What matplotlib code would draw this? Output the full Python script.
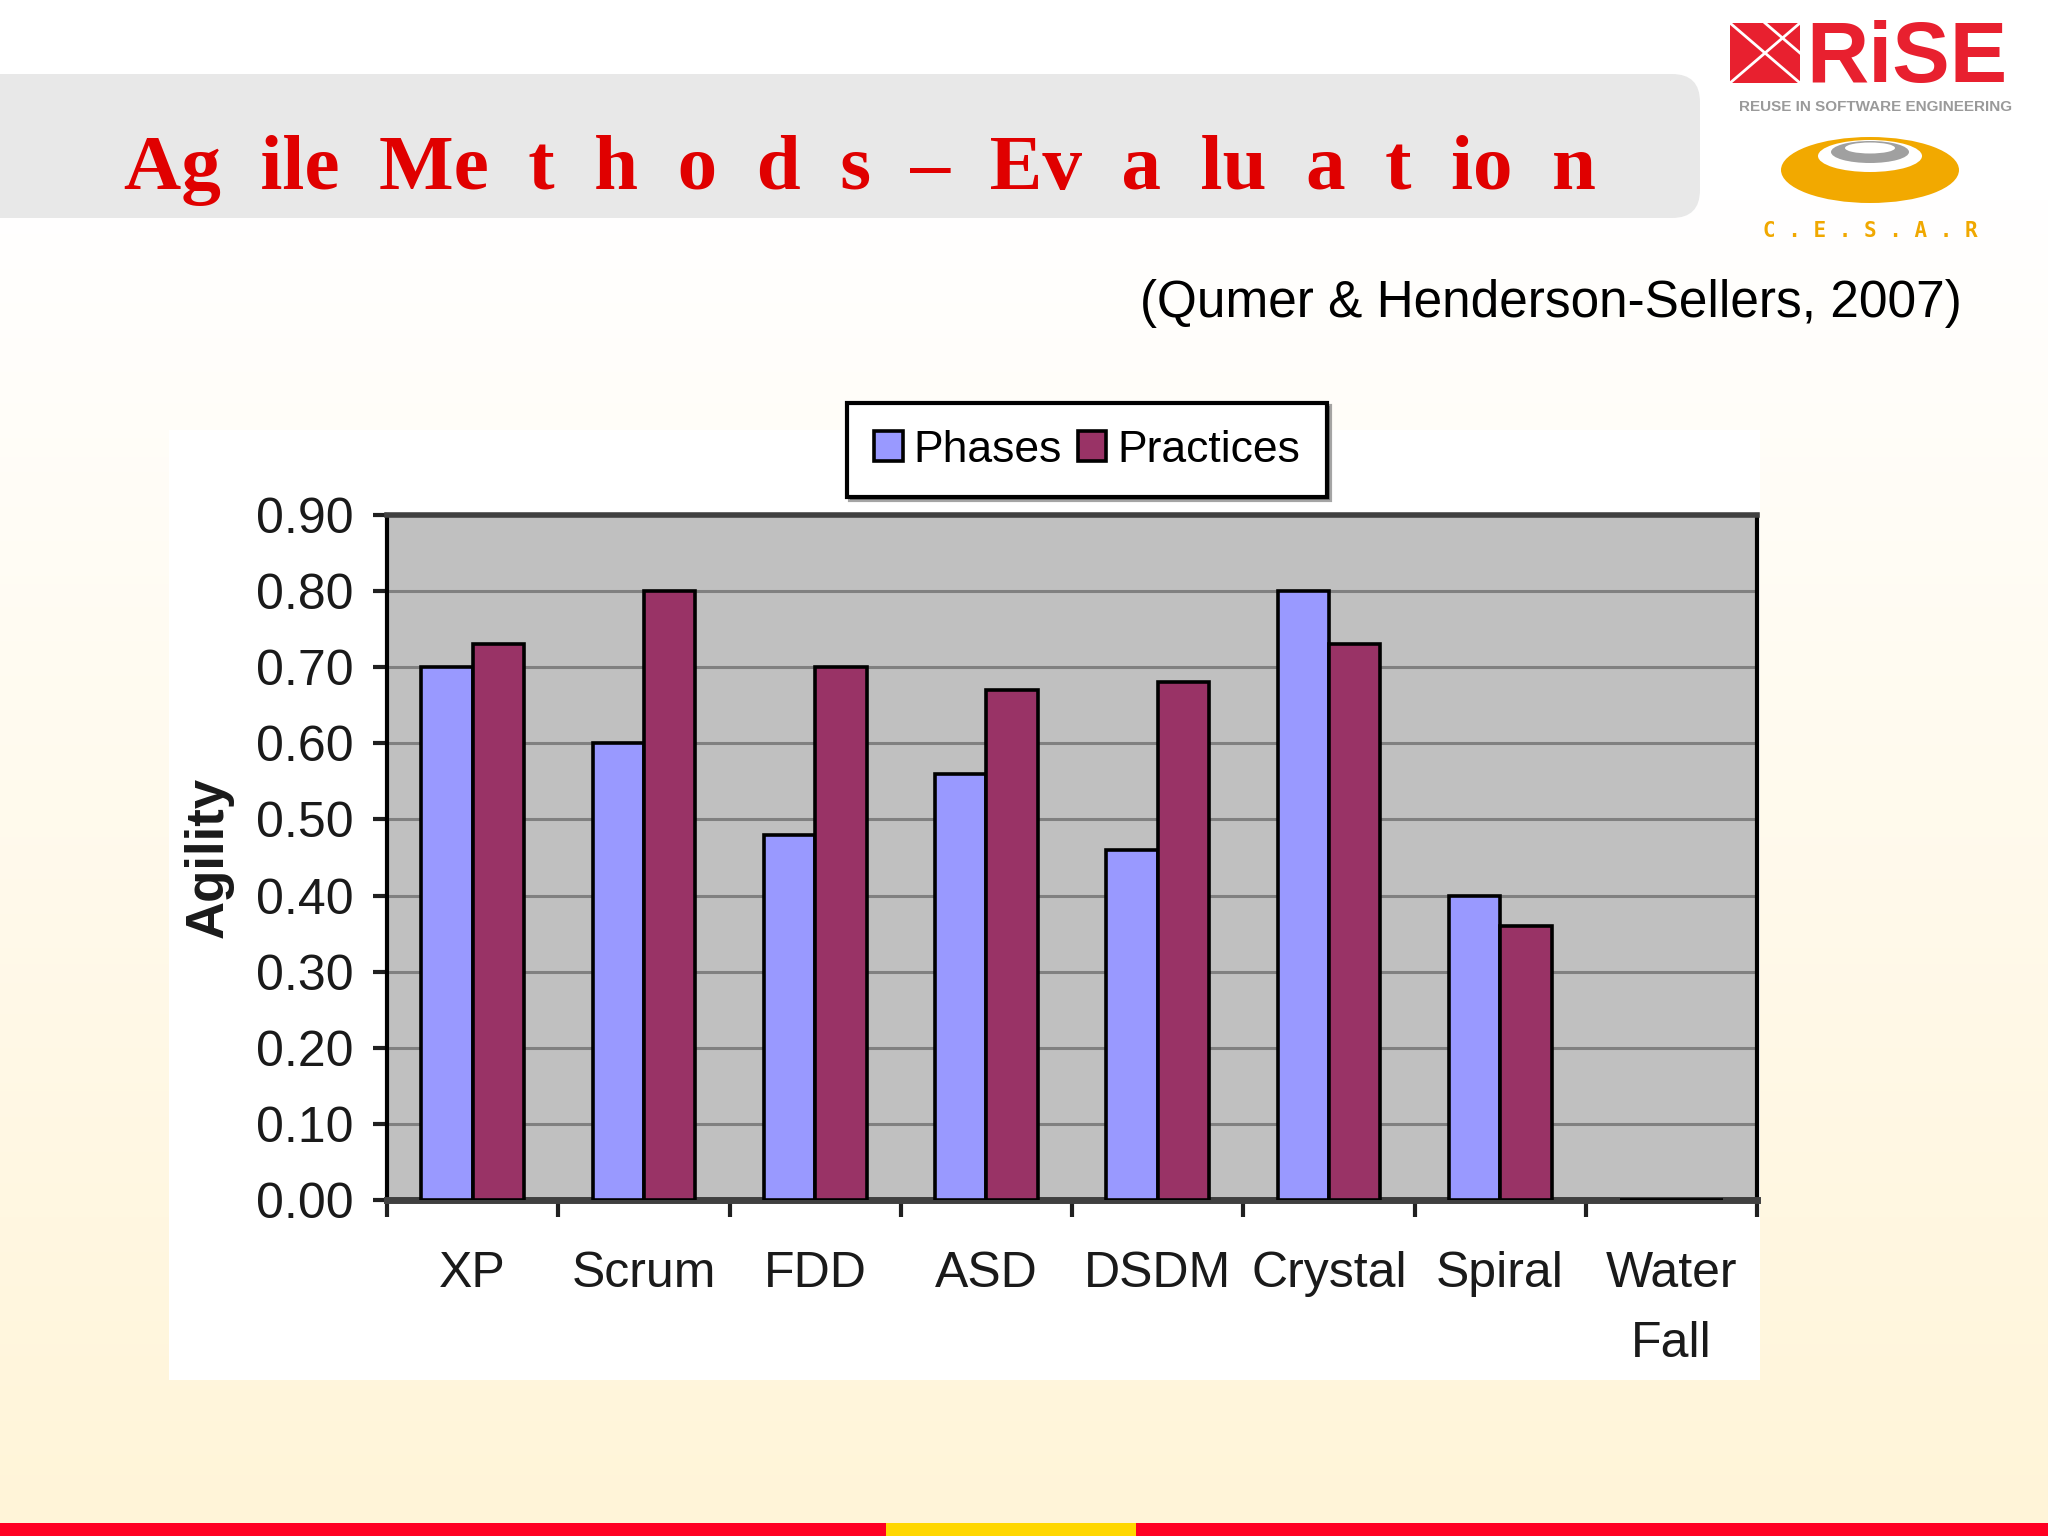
import numpy as np
import matplotlib.pyplot as plt
from matplotlib.patches import Rectangle, FancyBboxPatch, Ellipse

# data
methods = ['XP', 'Scrum', 'FDD', 'ASD', 'DSDM', 'Crystal', 'Spiral', 'Water\nFall']
phases = [0.70, 0.60, 0.48, 0.56, 0.46, 0.80, 0.40, 0.0]
practices = [0.73, 0.80, 0.70, 0.67, 0.68, 0.73, 0.36, 0.0]
yticks = np.arange(0, 0.91, 0.1)

plt.rcParams['font.family'] = ['Liberation Sans', 'DejaVu Sans']

fig = plt.figure(figsize=(20.48, 15.36), dpi=100)

# slide background in pixel coords
bg = fig.add_axes([0, 0, 1, 1])
bg.set_xlim(0, 2048)
bg.set_ylim(1536, 0)
bg.axis('off')
t = np.clip((np.linspace(0, 1536, 400) - 200) / 1300, 0, 1)[:, None]
img = np.ones((400, 1, 3))
img[:, :, 1] = 1 - 0.04 * t
img[:, :, 2] = 1 - 0.15 * t
bg.imshow(img, extent=[0, 2048, 1536, 0], aspect='auto', zorder=0)

# title banner
bg.add_patch(FancyBboxPatch((-60, 74), 1760, 144, boxstyle='round,pad=0,rounding_size=28',
                            fc='#E8E8E8', ec='none', zorder=1))
bg.text(124, 189, 'Ag  ile  Me  t  h  o  d  s  –  Ev  a  lu  a  t  io  n', family='Liberation Serif',
        weight='bold', color='#E00000', fontsize=57, va='baseline', ha='left', zorder=2)

# logos
bg.add_patch(Rectangle((1730, 23), 70, 60, fc='#E8202F', ec='none', zorder=1))
bg.plot([1730, 1800], [23, 83], color='white', lw=2, zorder=2)
bg.plot([1730, 1800], [83, 23], color='white', lw=2, zorder=2)
bg.plot([1765, 1800], [23, 53], color='white', lw=2, zorder=2)
bg.text(1806, 82, 'RiSE', family='Liberation Sans', weight='bold', color='#E8202F',
        fontsize=62, va='baseline', ha='left', zorder=2)
bg.text(1876, 100, 'REUSE IN SOFTWARE ENGINEERING', family='Liberation Sans', weight='bold',
        color='#9A9A9A', fontsize=11, va='top', ha='center', zorder=2)
bg.add_patch(Ellipse((1870, 170), 178, 66, fc='#F2A900', ec='none', zorder=1))
bg.add_patch(Ellipse((1870, 156), 104, 32, fc='white', ec='none', zorder=2))
bg.add_patch(Ellipse((1870, 152), 78, 22, fc='#A0A0A0', ec='none', zorder=3))
bg.add_patch(Ellipse((1870, 148), 50, 11, fc='white', ec='none', zorder=4))
bg.text(1870, 231, 'C . E . S . A . R', family='DejaVu Sans Mono', weight='bold', color='#F0A800',
        fontsize=15, va='center', ha='center', zorder=2)

bg.text(1962, 303, '(Qumer & Henderson-Sellers, 2007)', family='Liberation Sans',
        fontsize=37, va='center', ha='right', color='black', zorder=2)

# white chart panel and bottom stripe
bg.add_patch(Rectangle((169, 430), 1591, 950, fc='white', ec='none', zorder=1))
bg.add_patch(Rectangle((0, 1523), 2048, 13, fc='#FF0022', ec='none', zorder=1))
bg.add_patch(Rectangle((886, 1523), 250, 13, fc='#FFD700', ec='none', zorder=2))

# chart
ax = fig.add_axes([387 / 2048, 1 - 1200 / 1536, 1370 / 2048, 685 / 1536])
x = np.arange(len(methods))
w = 0.3
ax.bar(x - w / 2, phases, w, color='#9999FF', edgecolor='black', linewidth=2.6, label='Phases', zorder=3)
ax.bar(x + w / 2, practices, w, color='#993366', edgecolor='black', linewidth=2.6, label='Practices', zorder=3)

ax.set_facecolor('#C0C0C0')
ax.set_xlim(-0.5, 7.5)
ax.set_ylim(0, 0.9)
ax.set_yticks(yticks)
ax.set_yticklabels([f'{v:.2f}' for v in yticks])
ax.yaxis.grid(True, color='#808080', lw=2.2)
ax.set_axisbelow(True)
ax.set_xticks(x)
ax.set_xticklabels(methods)
for lbl in ax.get_xticklabels():
    lbl.set_linespacing(1.65)
ax.set_xticks(np.arange(-0.5, 8, 1), minor=True)
ax.tick_params(axis='x', which='major', length=0, pad=37, labelsize=36, labelcolor='#1a1a1a')
ax.tick_params(axis='x', which='minor', length=12, width=3, color='#202020')
ax.tick_params(axis='y', length=10, width=3, color='#202020', pad=14, labelsize=36, labelcolor='#1a1a1a')

ax.set_ylabel('Agility', fontsize=38, weight='bold', color='#1a1a1a')
ax.yaxis.set_label_coords(-0.112, 0.5)

ax.spines['left'].set_color('black')
ax.spines['left'].set_linewidth(3)
ax.spines['right'].set_color('black')
ax.spines['right'].set_linewidth(3)
ax.spines['top'].set_color('#404040')
ax.spines['top'].set_linewidth(4)
ax.spines['bottom'].set_color('#404040')
ax.spines['bottom'].set_linewidth(5)

leg = ax.legend(loc='center', bbox_to_anchor=(0.5308, 0.707), bbox_transform=fig.transFigure,
                ncol=2, fontsize=32, frameon=True, fancybox=False, edgecolor='black', framealpha=1,
                handlelength=0.65, handleheight=0.65, handletextpad=0.25, columnspacing=0.35,
                borderpad=0.6, shadow=True)
leg.get_frame().set_linewidth(3)

plt.savefig('out.png', dpi=100)
